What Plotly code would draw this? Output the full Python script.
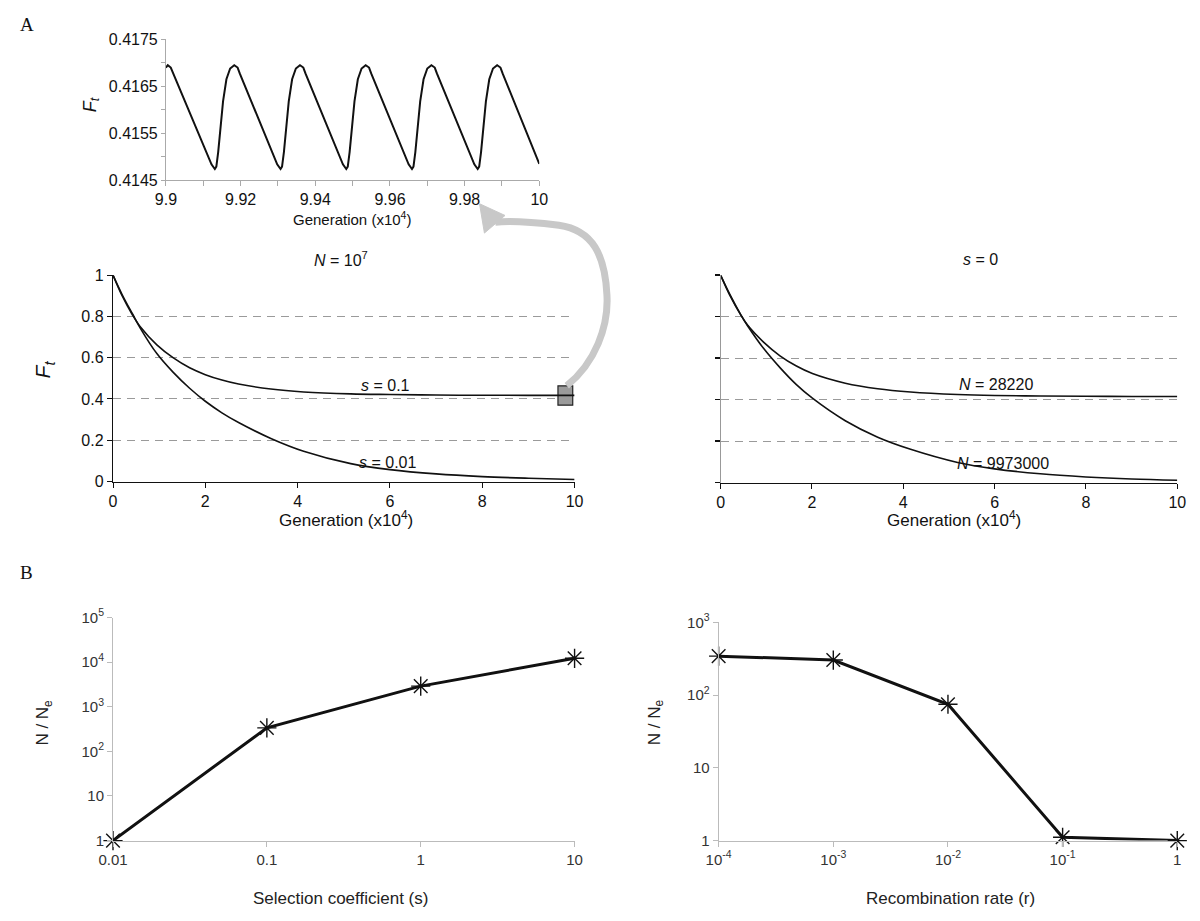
import plotly.graph_objects as go

# ---------------- data ----------------
# Inset: F_t over generations 9.9-10 (x10^4), s = 0.1
inset_gen = [9.9000, 9.9005, 9.9013, 9.9020,
             9.9122, 9.9131, 9.9135, 9.9140, 9.9144, 9.9153, 9.9162, 9.9172, 9.9183, 9.9192, 9.9198,
             9.9298, 9.9307, 9.9311, 9.9316, 9.9320, 9.9329, 9.9338, 9.9348, 9.9359, 9.9368, 9.9374,
             9.9474, 9.9483, 9.9487, 9.9492, 9.9496, 9.9505, 9.9514, 9.9524, 9.9535, 9.9544, 9.9550,
             9.9650, 9.9659, 9.9663, 9.9668, 9.9672, 9.9681, 9.9690, 9.9700, 9.9711, 9.9720, 9.9726,
             9.9826, 9.9835, 9.9839, 9.9844, 9.9848, 9.9857, 9.9866, 9.9876, 9.9887, 9.9896, 9.9902,
             10.0000]
inset_F = [0.41690, 0.41695, 0.41690, 0.41677,
           0.41484, 0.41474, 0.41479, 0.41510, 0.41545, 0.41618, 0.41665, 0.41688, 0.41695, 0.41690, 0.41677,
           0.41484, 0.41474, 0.41479, 0.41510, 0.41545, 0.41618, 0.41665, 0.41688, 0.41695, 0.41690, 0.41677,
           0.41484, 0.41474, 0.41479, 0.41510, 0.41545, 0.41618, 0.41665, 0.41688, 0.41695, 0.41690, 0.41677,
           0.41484, 0.41474, 0.41479, 0.41510, 0.41545, 0.41618, 0.41665, 0.41688, 0.41695, 0.41690, 0.41677,
           0.41484, 0.41474, 0.41479, 0.41510, 0.41545, 0.41618, 0.41665, 0.41688, 0.41695, 0.41690, 0.41677,
           0.41485]

# Middle left: N = 10^7
gen_left = [0, 0.2, 0.42, 0.6, 0.95, 1.3, 1.66, 2.0, 2.36, 2.72, 3.42, 4.13, 5.15, 6, 7, 8, 9, 10]
F_s01 = [1.0, 0.899, 0.808, 0.747, 0.662, 0.600, 0.551, 0.518, 0.492, 0.4725, 0.448, 0.434, 0.4246,
         0.4215, 0.419, 0.418, 0.4177, 0.4175]
F_s001 = [1.0, 0.905, 0.813, 0.740, 0.620, 0.530, 0.452, 0.389, 0.333, 0.286, 0.209, 0.147, 0.087,
          0.058, 0.037, 0.024, 0.016, 0.010]

# Middle right: s = 0
gen_right = [0, 0.2, 0.45, 0.59, 0.94, 1.3, 1.66, 2.01, 2.73, 3.44, 4.16, 5.19, 6, 7, 8, 9, 10]
F_N28220 = [1.0, 0.9035, 0.805, 0.759, 0.677, 0.611, 0.5615, 0.5255, 0.479, 0.452, 0.4365, 0.4245,
            0.4196, 0.417, 0.4157, 0.4152, 0.415]
F_N9973000 = [1.0, 0.9085, 0.806, 0.756, 0.647, 0.554, 0.472, 0.4066, 0.298, 0.2187, 0.1604, 0.097,
              0.066, 0.042, 0.027, 0.017, 0.011]

# Bottom left
sel_coef = [0.01, 0.1, 1, 10]
ratio_s = [1, 336, 2900, 12200]
# Bottom right
recomb = [1e-4, 1e-3, 1e-2, 1e-1, 1]
ratio_r = [344, 304, 75, 1.11, 1.0]

inset_xticks = [9.90, 9.92, 9.94, 9.96, 9.98, 10.0]
inset_xtext = ["9.9", "9.92", "9.94", "9.96", "9.98", "10"]
inset_xminor = [9.91, 9.93, 9.95, 9.97, 9.99]
inset_yticks = [0.4145, 0.4155, 0.4165, 0.4175]
inset_ytext = ["0.4145", "0.4155", "0.4165", "0.4175"]
inset_yminor = [0.4150, 0.4160, 0.4170]
gen_ticks = [0, 2, 4, 6, 8, 10]
F_ticks = [0, 0.2, 0.4, 0.6, 0.8, 1]
F_ticktext = ["0", "0.2", "0.4", "0.6", "0.8", "1"]
sel_ticks = [0.01, 0.1, 1, 10]
sel_ticktext = ["0.01", "0.1", "1", "10"]
ratio_s_ticks = [1, 10, 100, 1000, 10000, 100000]
ratio_s_ticktext = ["1", "10", "10<sup>2</sup>", "10<sup>3</sup>", "10<sup>4</sup>", "10<sup>5</sup>"]
rec_ticks = [1e-4, 1e-3, 1e-2, 1e-1, 1]
rec_ticktext = ["10<sup>-4</sup>", "10<sup>-3</sup>", "10<sup>-2</sup>", "10<sup>-1</sup>", "1"]
ratio_r_ticks = [1, 10, 100, 1000]
ratio_r_ticktext = ["1", "10", "10<sup>2</sup>", "10<sup>3</sup>"]

# ---------------- layout helpers ----------------
W, H = 1200, 921
FONT = "Liberation Sans, Arial, sans-serif"


def px(x):
    return x / W


def py(y):
    return 1 - y / H


def xdom(a, b):
    return [px(a), px(b)]


def ydom(top, bottom):
    return [py(bottom), py(top)]


fig = go.Figure()

line_black = dict(color="#111111", width=1.6)

fig.add_trace(go.Scatter(x=inset_gen, y=inset_F, mode="lines", line=dict(color="#111111", width=2),
                         xaxis="x", yaxis="y", showlegend=False))
fig.add_trace(go.Scatter(x=gen_left, y=F_s01, mode="lines", line=line_black, line_shape="spline",
                         xaxis="x2", yaxis="y2", showlegend=False))
fig.add_trace(go.Scatter(x=gen_left, y=F_s001, mode="lines", line=line_black, line_shape="spline",
                         xaxis="x2", yaxis="y2", showlegend=False))
fig.add_trace(go.Scatter(x=gen_right, y=F_N28220, mode="lines", line=line_black, line_shape="spline",
                         xaxis="x3", yaxis="y3", showlegend=False))
fig.add_trace(go.Scatter(x=gen_right, y=F_N9973000, mode="lines", line=line_black, line_shape="spline",
                         xaxis="x3", yaxis="y3", showlegend=False))
marker = dict(symbol="asterisk-open", size=16, color="#111111", line=dict(color="#111111", width=1.4))
fig.add_trace(go.Scatter(x=sel_coef, y=ratio_s, mode="lines+markers", line=dict(color="#111111", width=3),
                         marker=marker, cliponaxis=False, xaxis="x4", yaxis="y4", showlegend=False))
fig.add_trace(go.Scatter(x=recomb, y=ratio_r, mode="lines+markers", line=dict(color="#111111", width=3),
                         marker=marker, cliponaxis=False, xaxis="x5", yaxis="y5", showlegend=False))

tickfont_mid = dict(family=FONT, size=16, color="#111111")
tickfont_bot = dict(family=FONT, size=15, color="#333333")

common = dict(showgrid=False, zeroline=False, showline=True, ticks="outside", ticklen=5,
              mirror=False)

layout = dict(
    width=W, height=H,
    margin=dict(l=0, r=0, t=0, b=0),
    paper_bgcolor="white", plot_bgcolor="white",
    font=dict(family=FONT, color="#111111"),
    hovermode=False,
    # inset
    xaxis=dict(common, domain=xdom(154, 535), anchor="y", range=[9.9, 10.0], tickvals=inset_xticks,
               ticktext=inset_xtext, linecolor="#aaaaaa", tickcolor="#aaaaaa", tickfont=tickfont_mid,
               minor=dict(tickvals=inset_xminor, ticks="outside", ticklen=5, tickcolor="#aaaaaa",
                          showgrid=False)),
    yaxis=dict(common, domain=ydom(29, 173), anchor="x", range=[0.4145, 0.4175], tickvals=inset_yticks,
               ticktext=inset_ytext, linecolor="#aaaaaa", tickcolor="#aaaaaa", ticklen=4, tickfont=tickfont_mid,
               minor=dict(tickvals=inset_yminor, ticks="outside", ticklen=4, tickcolor="#aaaaaa",
                          showgrid=False)),
    # middle left
    xaxis2=dict(common, domain=xdom(100, 571), anchor="y2", range=[0, 10], tickvals=gen_ticks,
                linecolor="#111111", tickcolor="#111111", tickfont=tickfont_mid, linewidth=1.2),
    yaxis2=dict(common, domain=ydom(270, 481), anchor="x2", range=[0, 1], tickvals=F_ticks,
                ticktext=F_ticktext, linecolor="#111111", tickcolor="#111111", tickfont=tickfont_mid,
                linewidth=1.2, showgrid=True, gridcolor="#9a9a9a", griddash="8px,6px", gridwidth=1),
    # middle right
    xaxis3=dict(common, domain=xdom(720, 1186), anchor="y3", range=[0, 10], tickvals=gen_ticks,
                linecolor="#111111", tickcolor="#111111", tickfont=tickfont_mid, linewidth=1.2),
    yaxis3=dict(common, domain=ydom(270, 482), anchor="x3", range=[0, 1], tickvals=F_ticks,
                showticklabels=False, linecolor="#999999", tickcolor="#111111", tickwidth=1.5,
                showgrid=True, gridcolor="#9a9a9a", griddash="8px,6px", gridwidth=1),
    # bottom left
    xaxis4=dict(common, type="log", domain=xdom(100, 571), anchor="y4", range=[-2, 1], tickvals=sel_ticks,
                ticktext=sel_ticktext, linecolor="#bbbbbb", tickcolor="#bbbbbb", tickfont=tickfont_bot),
    yaxis4=dict(common, type="log", domain=ydom(620, 848), anchor="x4", range=[0, 5], tickvals=ratio_s_ticks,
                ticktext=ratio_s_ticktext, linecolor="#bbbbbb", tickcolor="#bbbbbb", tickfont=tickfont_bot),
    # bottom right
    xaxis5=dict(common, type="log", domain=xdom(718, 1186), anchor="y5", range=[-4, 0], tickvals=rec_ticks,
                ticktext=rec_ticktext, linecolor="#bbbbbb", tickcolor="#bbbbbb", tickfont=tickfont_bot),
    yaxis5=dict(common, type="log", domain=ydom(625, 848), anchor="x5", range=[0, 3], tickvals=ratio_r_ticks,
                ticktext=ratio_r_ticktext, linecolor="#bbbbbb", tickcolor="#bbbbbb", tickfont=tickfont_bot),
)
fig.update_layout(**layout)


def ann(text, x, y, size, xref="paper", yref="paper", angle=0, color="#111111", family=FONT,
        xanchor="center", yanchor="middle"):
    fig.add_annotation(text=text, x=x, y=y, xref=xref, yref=yref, showarrow=False, textangle=angle,
                       font=dict(size=size, color=color, family=family), xanchor=xanchor, yanchor=yanchor)


# panel letters
ann("A", px(3), py(14), 19, family="Liberation Serif, Times New Roman, serif", xanchor="left")
ann("B", px(3), py(574), 19, family="Liberation Serif, Times New Roman, serif", xanchor="left")

# axis titles
ann("Generation (x10<sup>4</sup>)", px(344), py(212), 15)
ann("<i>F<sub>t</sub></i>", px(78), py(96), 18, angle=-90)
ann("<i>F<sub>t</sub></i>", px(30), py(366), 21, angle=-90)
ann("Generation (x10<sup>4</sup>)", px(338), py(519), 17)
ann("Generation (x10<sup>4</sup>)", px(958), py(519), 17)
ann("Selection coefficient (s)", px(332), py(907), 17, color="#222222")
ann("Recombination rate (r)", px(955), py(907), 17, color="#222222")
ann("N / N<sub>e</sub>", px(30), py(727), 17, angle=-90, color="#222222")
ann("N / N<sub>e</sub>", px(654), py(727), 17, angle=-90, color="#222222")

# panel titles
ann("<i>N</i> = 10<sup>7</sup>", px(333), py(253), 16)
ann("<i>s</i> = 0", px(985), py(254), 16)

# curve labels
ann("<i>s</i> = 0.1", 5.9, 0.467, 16, xref="x2", yref="y2")
ann("<i>s</i> = 0.01", 5.95, 0.09, 16, xref="x2", yref="y2")
ann("<i>N</i> = 28220", 6.03, 0.475, 16, xref="x3", yref="y3")
ann("<i>N</i> = 9973000", 6.18, 0.09, 16, xref="x3", yref="y3")

# highlighted region box on the s = 0.1 curve
fig.add_shape(type="rect", xref="x2", yref="y2", x0=9.64, x1=9.96, y0=0.37, y1=0.464,
              fillcolor="#9a9a9a", line=dict(color="#222222", width=1.2), layer="between")


# curved arrow from the box to the inset
def P(x, y):
    return f"{px(x):.5f},{py(y):.5f}"


arrow_path = (f"M {P(563, 383)} C {P(592, 360)} {P(606, 322)} {P(604, 290)} "
              f"C {P(602, 250)} {P(590, 224)} {P(555, 219)} "
              f"C {P(530, 216)} {P(505, 214)} {P(490, 216)}")
fig.add_shape(type="path", xref="paper", yref="paper", path=arrow_path,
              line=dict(color="#c8c8c8", width=7), layer="above")
head_path = f"M {P(474, 197)} L {P(500, 209)} L {P(479, 227)} Z"
fig.add_shape(type="path", xref="paper", yref="paper", path=head_path,
              fillcolor="#c8c8c8", line=dict(color="#c8c8c8", width=1), layer="above")

# remove the default page margin so the figure sits at the window origin
fig.write_html("out.html", config={"displayModeBar": False, "staticPlot": True},
               post_script="document.body.style.margin='0';document.body.style.overflow='hidden';")
